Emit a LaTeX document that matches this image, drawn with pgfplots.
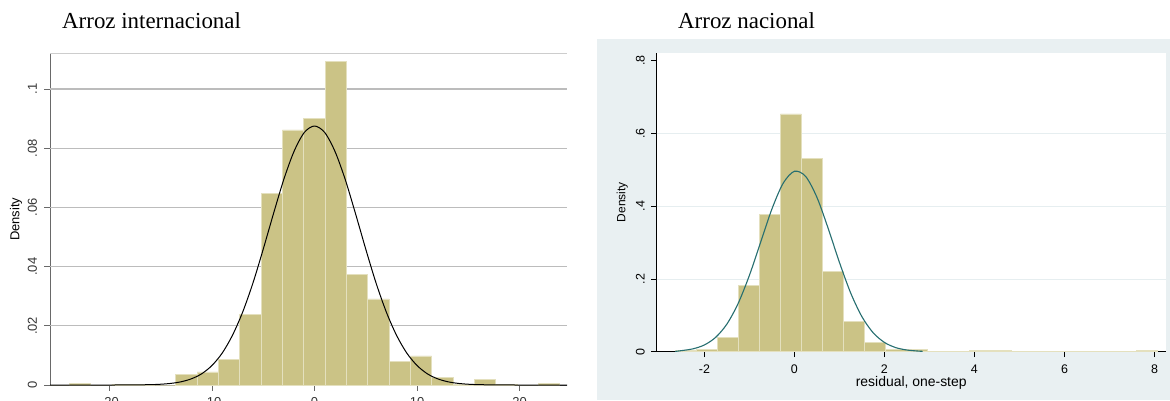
\documentclass[border=0pt]{standalone}
\usepackage{pgfplots}
\pgfplotsset{compat=1.18}
\usepackage{fontspec}
\setmainfont{Liberation Serif}
\newfontfamily\arial{Liberation Sans}
\definecolor{barfill}{RGB}{203,195,134}
\definecolor{baredge}{RGB}{228,224,190}
\definecolor{lgrid}{RGB}{188,188,188}
\definecolor{ltop}{RGB}{205,205,205}
\definecolor{laxis}{RGB}{105,105,105}
\definecolor{bgblue}{RGB}{233,240,242}
\definecolor{rgrid}{RGB}{230,238,240}
\definecolor{teal2}{RGB}{38,110,112}

\begin{document}
\begin{tikzpicture}[x=1bp,y=1bp]
\path[use as bounding box] (0,0) rectangle (1170,400);
\fill[bgblue] (597,0) rectangle (1170,360.5);
\node[anchor=base west, inner sep=0, font=\fontsize{23}{27}\selectfont] at (62,372) {Arroz internacional};
\node[anchor=base west, inner sep=0, font=\fontsize{23}{27}\selectfont] at (678,372) {Arroz nacional};

% left: international rice
\begin{axis}[
    at={(50bp,15bp)}, anchor=south west, scale only axis,
    width=517bp, height=331.5bp,
    xmin=-25.8, xmax=24.63, ymin=0, ymax=0.112,
    axis x line*=bottom, axis y line*=left,
    axis line style={draw=laxis, line width=0.9bp, -},
    tick align=outside, major tick length=5.5bp,
    tick style={draw=laxis, line width=0.8bp},
    xtick={-20,-10,0,10,20}, xticklabels={-20,-10,0,10,20},
    ytick={0,0.02,0.04,0.06,0.08,0.1}, yticklabels={0,.02,.04,.06,.08,.1},
    ticklabel style={font=\arial\fontsize{13}{15}\selectfont, text=black!80},
    yticklabel style={rotate=90, anchor=south},
    yticklabel shift=4bp, xticklabel shift=3bp,
    extra y ticks={0.02,0.04,0.06,0.08,0.1}, extra y tick labels={},
    extra y tick style={grid=major, major tick length=0pt},
    grid style={draw=lgrid, line width=1.3bp},
    ylabel={Density},
    ylabel style={font=\arial\fontsize{13}{15}\selectfont, at={(axis description cs:-0.047,0.5)}, anchor=south},
]
\draw[ltop, line width=1bp] (rel axis cs:0,1) -- (rel axis cs:1,1);
\addplot[ybar interval, fill=barfill, draw=baredge, line width=0.6bp] coordinates {
(-26.01,0) (-23.93,0.0005) (-21.85,0) (-19.77,0.0003) (-17.69,0.0003)
(-15.61,0) (-13.53,0.0036) (-11.45,0.0044) (-9.37,0.0087) (-7.29,0.0239)
(-5.21,0.0648) (-3.13,0.0862) (-1.05,0.0901) (1.03,0.1092) (3.11,0.0375)
(5.19,0.0291) (7.27,0.0079) (9.35,0.0098) (11.43,0.0025) (13.51,0.0003)
(15.59,0.0018) (17.67,0.0003) (19.75,0) (21.83,0.0005) (23.91,0)};
\addplot[black, line width=1bp, smooth] coordinates {
(-25.8,0) (-20,0) (-18,0.00002) (-16,0.00012) (-15,0.00026) (-14,0.00055)
(-13,0.0011) (-12,0.0021) (-11,0.0038) (-10,0.0066) (-9,0.0108) (-8,0.0168)
(-7,0.0247) (-6,0.0345) (-5,0.0459) (-4,0.0579) (-3,0.0694) (-2,0.0789)
(-1,0.0853) (0,0.0875) (1,0.0853) (2,0.0789) (3,0.0694) (4,0.0579)
(5,0.0459) (6,0.0345) (7,0.0247) (8,0.0168) (9,0.0108) (10,0.0066)
(11,0.0038) (12,0.0021) (13,0.0011) (14,0.00055) (15,0.00026) (16,0.00012)
(18,0.00002) (20,0) (24.63,0)};
\end{axis}

% right: national rice
\begin{axis}[
    at={(656.7bp,48.3bp)}, anchor=south west, scale only axis,
    width=509bp, height=299bp,
    xmin=-3.06, xmax=8.25, ymin=0, ymax=0.822,
    axis background/.style={fill=white},
    axis x line*=bottom, axis y line*=left,
    axis line style={draw=black, line width=0.8bp, -},
    tick align=outside, major tick length=5.5bp,
    tick style={draw=black, line width=0.7bp},
    xtick={-2,0,2,4,6,8}, xticklabels={-2,0,2,4,6,8},
    ytick={0,0.2,0.4,0.6,0.8}, yticklabels={0,.2,.4,.6,.8},
    ticklabel style={font=\arial\fontsize{12.5}{14}\selectfont, text=black},
    yticklabel style={rotate=90, anchor=south},
    yticklabel shift=3bp, xticklabel shift=4bp,
    extra y ticks={0.2,0.4,0.6}, extra y tick labels={},
    extra y tick style={grid=major, major tick length=0pt},
    grid style={draw=rgrid, line width=0.9bp},
    ylabel={Density},
    ylabel style={font=\arial\fontsize{12}{14}\selectfont, at={(axis description cs:-0.05,0.5)}, anchor=south},
    xlabel={residual, one-step},
    xlabel style={font=\arial\fontsize{14}{16}\selectfont, at={(axis description cs:0.5,0)}, anchor=north, yshift=-21bp},
]
\addplot[ybar interval, fill=barfill, draw=baredge, line width=0.6bp] coordinates {
(-2.643,0.003) (-2.177,0.006) (-1.711,0.0394) (-1.245,0.182) (-0.779,0.378)
(-0.313,0.654) (0.153,0.532) (0.618,0.2215) (1.084,0.0828) (1.550,0.0257)
(2.016,0.0055) (2.482,0.0055) (2.948,0) (3.414,0) (3.880,0.004)
(4.346,0.004) (4.812,0) (5.278,0) (5.743,0) (6.209,0) (6.675,0)
(7.141,0) (7.607,0.004) (8.073,0)};
\addplot[teal2, line width=1.1bp, smooth] coordinates {
(-2.65,0.0008) (-2.5,0.0031) (-2.25,0.0080) (-2.0,0.0186) (-1.75,0.0395)
(-1.5,0.0760) (-1.25,0.1328) (-1.0,0.2100) (-0.75,0.3014) (-0.5,0.3924)
(-0.25,0.4632) (0,0.4960) (0.25,0.4817) (0.5,0.4243) (0.75,0.3389)
(1.0,0.2456) (1.25,0.1614) (1.5,0.0962) (1.75,0.0520) (2.0,0.0255)
(2.25,0.0113) (2.5,0.0046) (2.75,0.0017) (2.85,0.0010)};
\end{axis}
\end{tikzpicture}
\end{document}
